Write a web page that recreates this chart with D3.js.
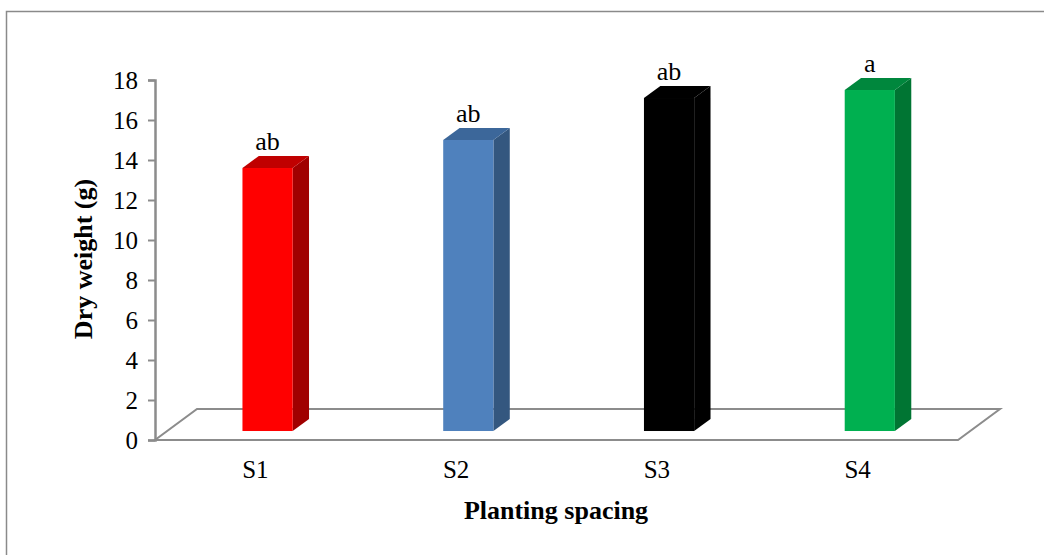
<!DOCTYPE html>
<html>
<head>
<meta charset="utf-8">
<script src="https://cdn.jsdelivr.net/npm/d3@7"></script>
<style>
  html, body { margin: 0; padding: 0; background: #fff; }
  svg { display: block; }
  svg text { font-family: "Liberation Serif", "Times New Roman", serif; }
</style>
</head>
<body>
<svg id="chart" width="1044" height="555"></svg>
<script>
// Dry weight by planting spacing
const categories = ["S1", "S2", "S3", "S4"];
const dryWeight = [13.15, 14.55, 16.65, 17.05];
const letters = ["ab", "ab", "ab", "a"];
const frontColors = ["#FF0000", "#4F81BD", "#000000", "#00B050"];
const topColors = ["#C00000", "#3C679A", "#000000", "#00873D"];
const sideColors = ["#A00000", "#34577F", "#000000", "#007533"];
const yTicks = [0, 2, 4, 6, 8, 10, 12, 14, 16, 18];

const svg = d3.select("#chart");

// outer frame
svg.append("rect")
  .attr("x", 6.5).attr("y", 11.5)
  .attr("width", 1100).attr("height", 600)
  .attr("fill", "none").attr("stroke", "#8a8a8a").attr("stroke-width", 1.5);

const x0 = 155, x1 = 958;
const depthX = 42, depthY = -31;   // floor depth vector

const x = d3.scaleBand().domain(categories).range([x0, x1]).paddingInner(0).paddingOuter(0);
const y = d3.scaleLinear().domain([0, 18]).range([440, 80]);

const gridGrey = "#8c8c8c";

// floor
const floor = [[x0, y(0)], [x1, y(0)], [x1 + depthX, y(0) + depthY], [x0 + depthX, y(0) + depthY]];
svg.append("path")
  .attr("d", d3.line()(floor) + "Z")
  .attr("fill", "none").attr("stroke", gridGrey).attr("stroke-width", 2)
  .attr("stroke-linejoin", "miter");

// vertical axis
const yAxis = d3.axisLeft(y).tickValues(yTicks).tickSize(7).tickPadding(10);
const gy = svg.append("g").attr("transform", `translate(${x0},0)`).call(yAxis);
gy.attr("font-family", null).attr("font-size", null);
gy.select(".domain").attr("stroke", gridGrey).attr("stroke-width", 2.5);
gy.selectAll(".tick line").attr("stroke", gridGrey).attr("stroke-width", 2);
gy.selectAll(".tick text")
  .attr("font-size", 25).attr("fill", "#000");

// bars as 3D prisms
const frontDepth = 0.29, barDepth = 0.39, barWidthFrac = 0.25;
const fx = frontDepth * depthX, fy = frontDepth * depthY;
const sx = barDepth * depthX, sy = barDepth * depthY;
const bw = x.bandwidth() * barWidthFrac;

const bars = svg.append("g").selectAll("g").data(categories).join("g");
bars.each(function (c, i) {
  const g = d3.select(this);
  const cx = x(c) + x.bandwidth() / 2 + fx;
  const left = cx - bw / 2, right = cx + bw / 2;
  const bottom = y(0) + fy, top = y(dryWeight[i]) + fy;
  // side face
  g.append("path")
    .attr("d", d3.line()([[right, bottom], [right + sx, bottom + sy], [right + sx, top + sy], [right, top]]) + "Z")
    .attr("fill", sideColors[i]);
  // top face
  g.append("path")
    .attr("d", d3.line()([[left, top], [left + sx, top + sy], [right + sx, top + sy], [right, top]]) + "Z")
    .attr("fill", topColors[i]);
  // front face
  g.append("rect")
    .attr("x", left).attr("y", top)
    .attr("width", bw).attr("height", bottom - top)
    .attr("fill", frontColors[i]);
  // significance letters
  g.append("text")
    .attr("x", cx).attr("y", top + sy - 6)
    .attr("text-anchor", "middle")
    .attr("font-size", 26).attr("fill", "#000")
    .text(letters[i]);
});

// category labels
svg.append("g").selectAll("text").data(categories).join("text")
  .attr("x", d => x(d) + x.bandwidth() / 2)
  .attr("y", 478)
  .attr("text-anchor", "middle")
  .attr("font-size", 25)
  .text(d => d);

// axis titles
svg.append("text")
  .attr("x", 556).attr("y", 519)
  .attr("text-anchor", "middle")
  .attr("font-size", 26).attr("font-weight", "bold")
  .text("Planting spacing");

svg.append("text")
  .attr("transform", "translate(92,259) rotate(-90)")
  .attr("text-anchor", "middle")
  .attr("font-size", 26).attr("font-weight", "bold")
  .text("Dry weight (g)");
</script>
</body>
</html>
